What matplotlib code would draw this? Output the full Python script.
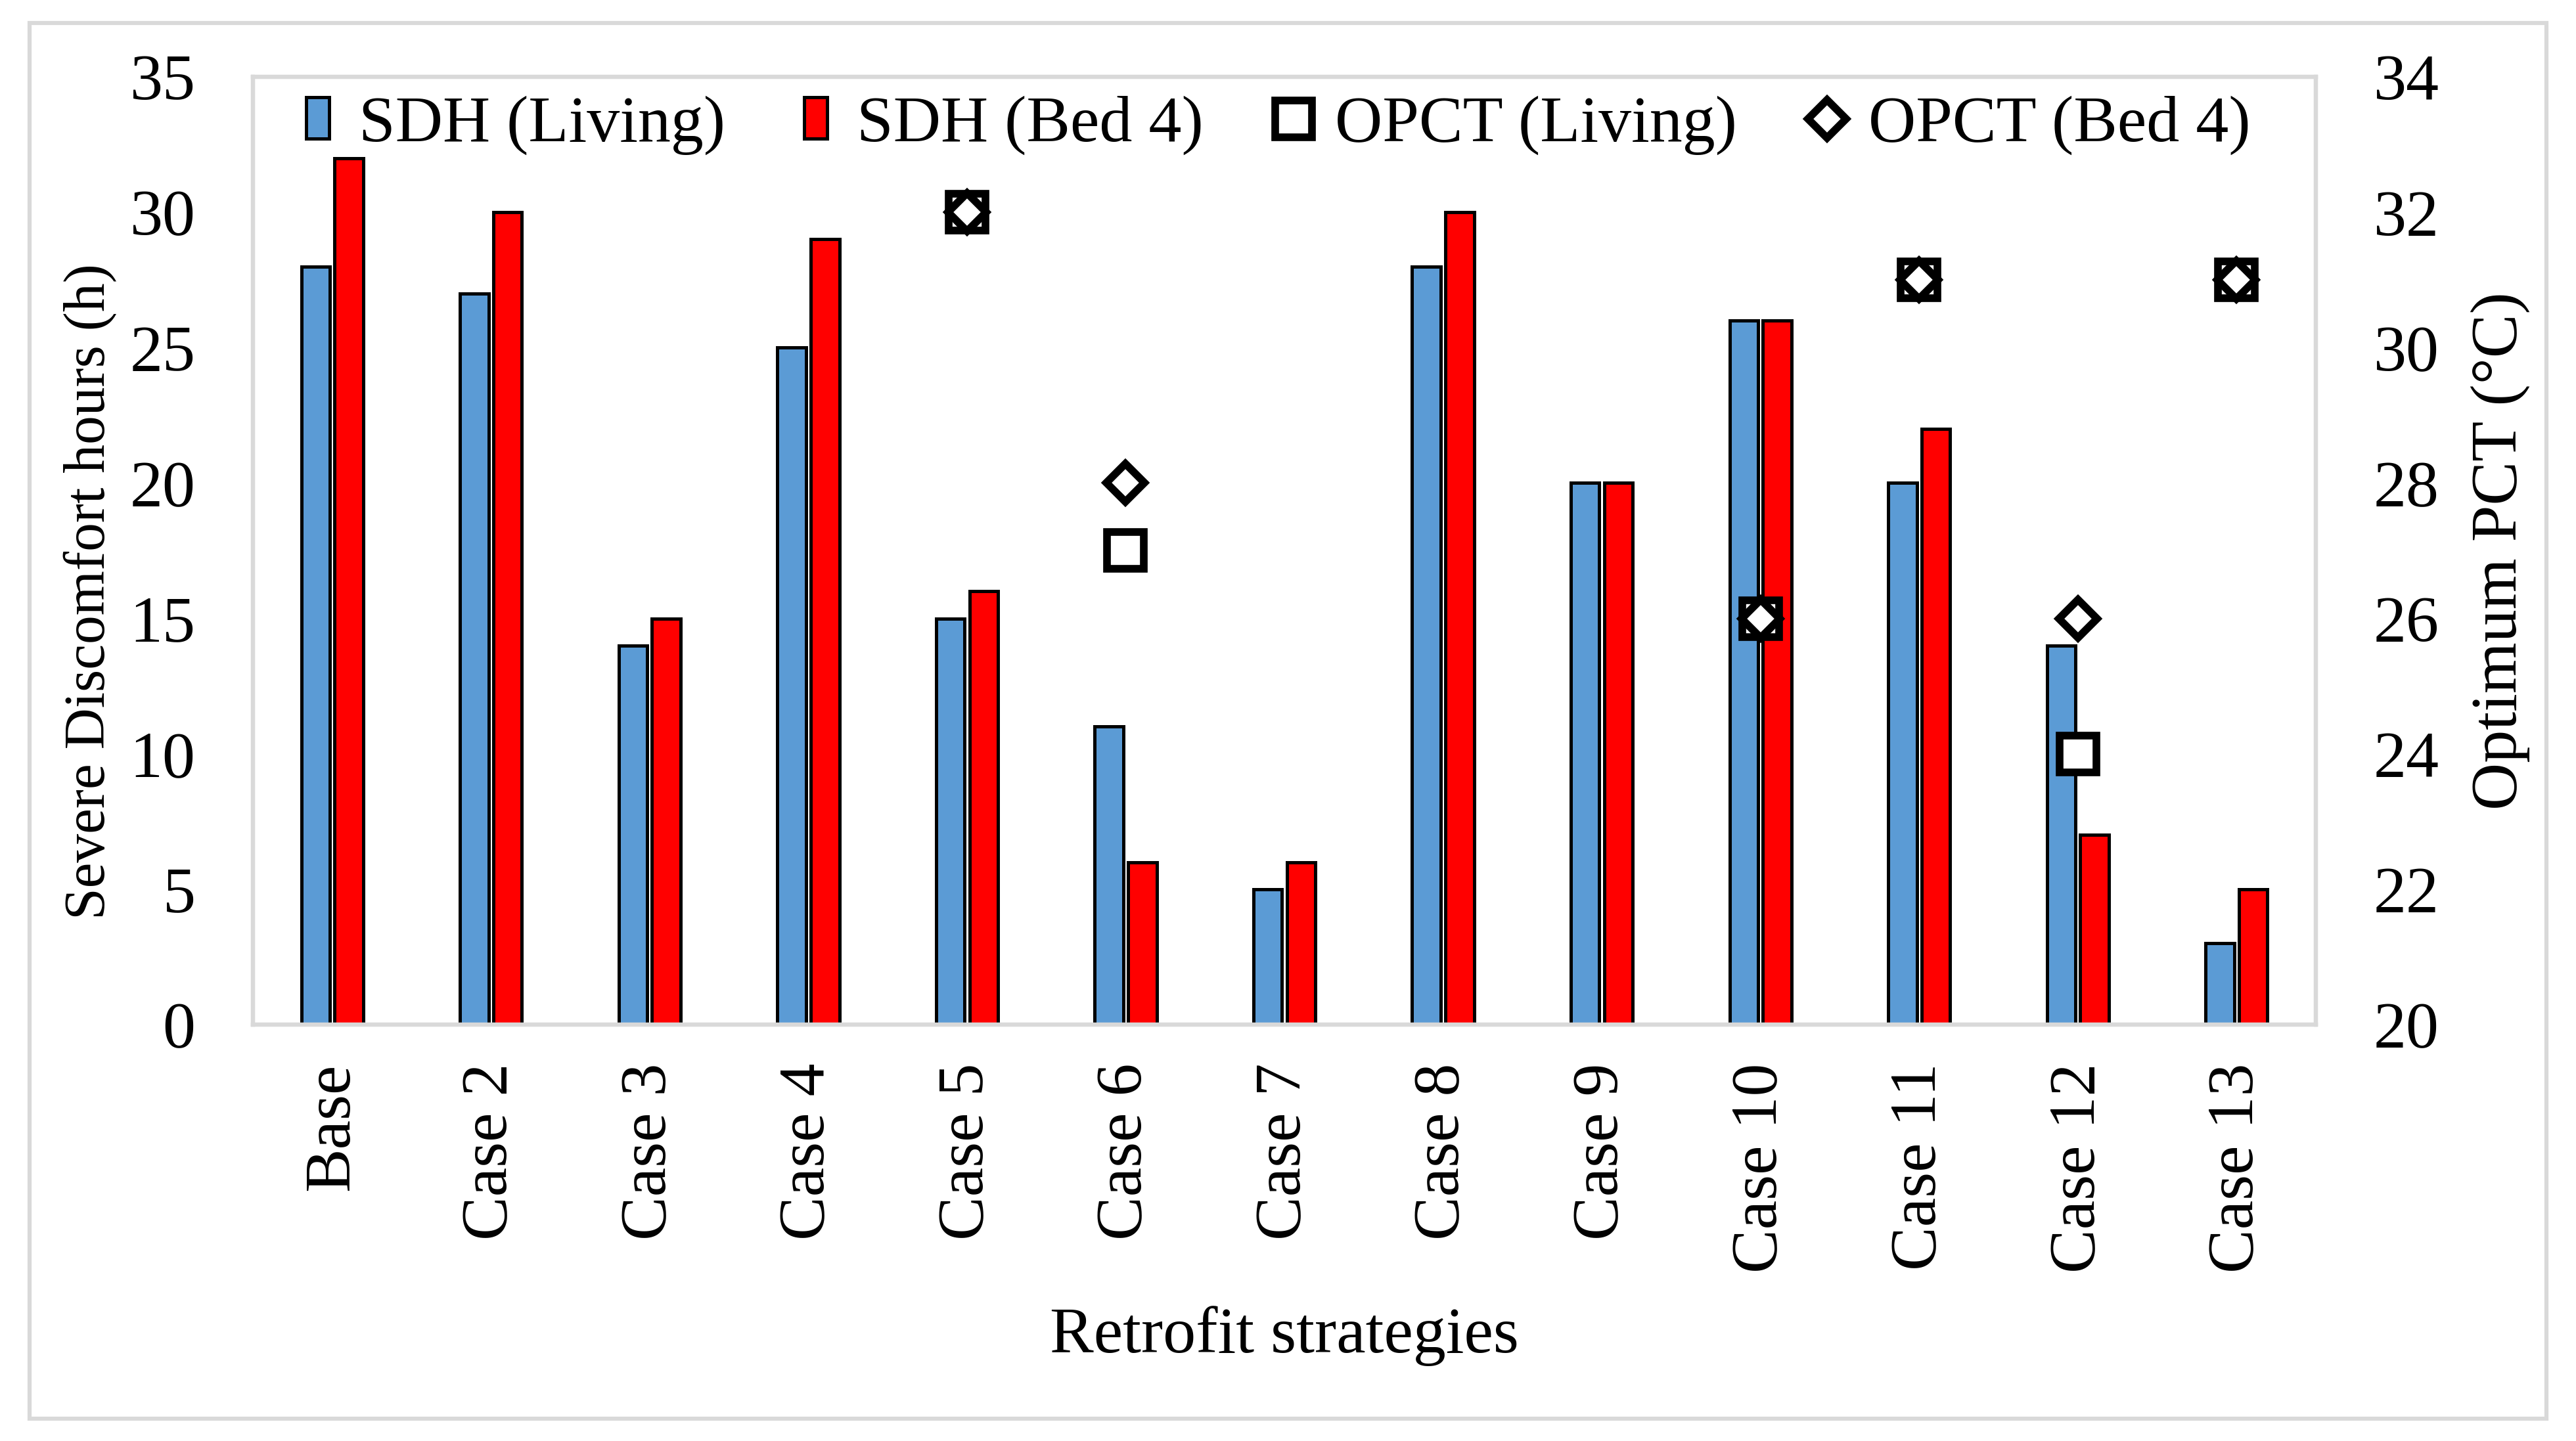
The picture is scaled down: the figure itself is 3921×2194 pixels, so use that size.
import matplotlib
matplotlib.use("Agg")
import matplotlib.pyplot as plt
from matplotlib.patches import Rectangle
import numpy as np

# Data
cases = ["Base", "Case 2", "Case 3", "Case 4", "Case 5", "Case 6", "Case 7",
         "Case 8", "Case 9", "Case 10", "Case 11", "Case 12", "Case 13"]
sdh_living = [28, 27, 14, 25, 15, 11, 5, 28, 20, 26, 20, 14, 3]
sdh_bed4 = [32, 30, 15, 29, 16, 6, 6, 30, 20, 26, 22, 7, 5]
opct_living = [None, None, None, None, 32, 27, None, None, None, 26, 31, 24, 31]
opct_bed4 = [None, None, None, None, 32, 28, None, None, None, 26, 31, 26, 31]

plt.rcParams["font.family"] = ["Liberation Serif", "DejaVu Serif"]
plt.rcParams["font.size"] = 24

fig = plt.figure(figsize=(3921 / 300, 2194 / 300), dpi=300)
ax = fig.add_axes([0.0982, 0.289, 0.8008, 0.6577])
ax2 = ax.twinx()

x = np.arange(len(cases))
width = 0.18
b1 = ax.bar(x - 0.105, sdh_living, width, color="#5B9BD5", edgecolor="black",
            linewidth=1.2, label="SDH (Living)")
b2 = ax.bar(x + 0.105, sdh_bed4, width, color="#FF0000", edgecolor="black",
            linewidth=1.2, label="SDH (Bed 4)")

y_liv = np.array([np.nan if v is None else v for v in opct_living], dtype=float)
y_bed = np.array([np.nan if v is None else v for v in opct_bed4], dtype=float)
m1, = ax2.plot(x, y_liv, linestyle="none", marker="s", markersize=13.5,
               markerfacecolor="white", markeredgecolor="black",
               markeredgewidth=2.8, label="OPCT (Living)")
m2, = ax2.plot(x, y_bed, linestyle="none", marker="D", markersize=9.8,
               markerfacecolor="white", markeredgecolor="black",
               markeredgewidth=2.8, label="OPCT (Bed 4)")

ax.set_xlim(-0.5, len(cases) - 0.5)
ax.set_ylim(0, 35)
ax.set_yticks(np.arange(0, 36, 5))
ax2.set_ylim(20, 34)
ax2.set_yticks(np.arange(20, 35, 2))

ax.set_xticks(x)
ax.set_xticklabels(cases, rotation=90)
ax.tick_params(axis="x", length=0, pad=14)
ax.tick_params(axis="y", length=0, pad=21)
ax2.tick_params(axis="y", length=0, pad=21)

ax.set_xlabel("Retrofit strategies", labelpad=12)
ax.set_ylabel("Severe Discomfort hours (h)", fontsize=21)
ax.yaxis.set_label_coords(-0.066, 0.457)
ax2.set_ylabel("Optimum PCT (°C)")
ax2.yaxis.set_label_coords(1.075, 0.5)

for a in (ax, ax2):
    for s in a.spines.values():
        s.set_color("#D9D9D9")
        s.set_linewidth(1.5)

leg = ax2.legend([b1, b2, m1, m2],
                 ["SDH (Living)", "SDH (Bed 4)", "OPCT (Living)", "OPCT (Bed 4)"],
                 loc="center", bbox_to_anchor=(0.497, 0.949), ncol=4,
                 frameon=False, handlelength=0.35, handleheight=0.6,
                 handletextpad=0.45, columnspacing=1.2, borderaxespad=0)

# outer chart border
fig.patches.append(Rectangle((0.0115, 0.0155), 0.977, 0.9685,
                             transform=fig.transFigure, fill=False,
                             edgecolor="#D9D9D9", linewidth=1.5))

fig.savefig("out.png", dpi=300, facecolor="white")
